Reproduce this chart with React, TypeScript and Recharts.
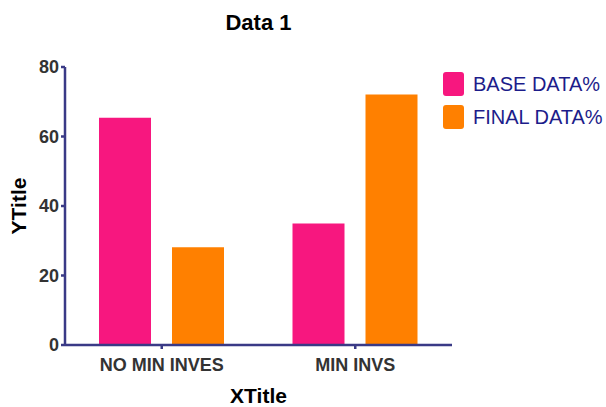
import React from 'react';
import { BarChart, Bar, XAxis, YAxis } from 'recharts';

const categories = ['NO MIN INVES', 'MIN INVS'];
const baseData = [65.4, 35.0];
const finalData = [28.1, 72.1];
const yTicks = [0, 20, 40, 60, 80];
const seriesNames = ['BASE DATA%', 'FINAL DATA%'];
const seriesColors = ['#F7177F', '#FF8000'];

const data = categories.map((c, i) => ({ name: c, base: baseData[i], final: finalData[i] }));

const AXIS = '#3A3A86';
const FONT = '"Liberation Sans", Arial, sans-serif';

export default function App() {
  return (
    <div style={{ position: 'absolute', left: 0, top: 0, width: 606, height: 407, background: '#fff', fontFamily: FONT }}>
      <div style={{ position: 'absolute', left: 65, width: 387, top: 12, textAlign: 'center', fontSize: 22, lineHeight: '22px', fontWeight: 'bold', color: '#000' }}>
        Data 1
      </div>
      <BarChart
        width={606}
        height={407}
        data={data}
        margin={{ top: 67, right: 154, bottom: 2, left: 0 }}
        barCategoryGap={34}
        barGap={21}
      >
        <XAxis
          dataKey="name"
          height={60}
          stroke={AXIS}
          strokeWidth={2.5}
          tickSize={4}
          tickMargin={9}
          tick={{ fill: '#333', fontSize: 18, fontWeight: 'bold', fontFamily: FONT }}
          label={({ viewBox }: any) => (
            <text x={viewBox.x + viewBox.width / 2} y={403} textAnchor="middle" fontSize={21} fontWeight="bold" fontFamily={FONT} fill="#000">
              XTitle
            </text>
          )}
        />
        <YAxis
          width={65}
          domain={[0, 80]}
          ticks={yTicks}
          stroke={AXIS}
          strokeWidth={2.5}
          tickSize={4}
          tickMargin={2}
          tick={{ fill: '#333', fontSize: 18, fontWeight: 'bold', fontFamily: FONT }}
          label={({ viewBox }: any) => (
            <text
              x={26}
              y={viewBox.y + viewBox.height / 2}
              transform={`rotate(-90 26 ${viewBox.y + viewBox.height / 2})`}
              textAnchor="middle"
              fontSize={21}
              fontWeight="bold"
              fontFamily={FONT}
              fill="#000"
            >
              YTitle
            </text>
          )}
        />
        <Bar dataKey="base" name={seriesNames[0]} fill={seriesColors[0]} barSize={52} isAnimationActive={false} />
        <Bar dataKey="final" name={seriesNames[1]} fill={seriesColors[1]} barSize={52} isAnimationActive={false} />
      </BarChart>
      {seriesNames.map((n, i) => (
        <div key={n} style={{ position: 'absolute', left: 443, top: 72 + i * 33, height: 24, display: 'flex', alignItems: 'center' }}>
          <div style={{ width: 21, height: 24, background: seriesColors[i], borderRadius: 3 }} />
          <span style={{ marginLeft: 9, fontSize: 20, color: '#1C1C8A', whiteSpace: 'nowrap' }}>{n}</span>
        </div>
      ))}
    </div>
  );
}
